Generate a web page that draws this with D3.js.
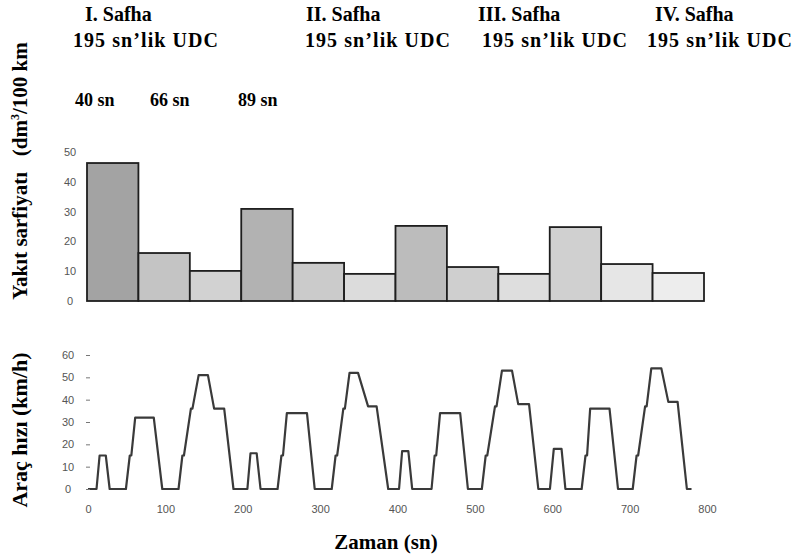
<!DOCTYPE html>
<html>
<head>
<meta charset="utf-8">
<script src="https://cdn.jsdelivr.net/npm/d3@7"></script>
<style>
  body { margin: 0; background: #fff; }
  svg { display: block; }
</style>
</head>
<body>
<div id="chart"></div>
<script>
// phase headings and segment lengths
const phases = ["I. Safha", "II. Safha", "III. Safha", "IV. Safha"];
const cycleLabel = "195 sn\u2019lik UDC";
const segments = ["40 sn", "66 sn", "89 sn"];

// fuel consumption per segment (dm3/100 km), 3 segments x 4 phases
const barIds = ["I-40", "I-66", "I-89", "II-40", "II-66", "II-89",
                "III-40", "III-66", "III-89", "IV-40", "IV-66", "IV-89"];
const fuel = [46.3, 16.1, 10.1, 30.9, 12.8, 9.1, 25.2, 11.4, 9.1, 24.8, 12.4, 9.4];
const fuelTicks = [0, 10, 20, 30, 40, 50];

// vehicle speed trace (sn, km/h)
const speedTime = [
  0, 11, 15, 23, 28, 49, 54, 56, 61, 85, 96, 117, 122, 124, 133, 135, 143, 155, 163, 176, 188,
  206, 210, 218, 223, 245, 250, 252, 257, 283, 293, 315, 320, 322, 330, 332, 338, 349, 362, 373, 388,
  402, 406, 414, 419, 444, 448, 450, 455, 481, 491, 509, 514, 516, 526, 528, 535, 548, 556, 570, 582,
  597, 602, 612, 617, 638, 643, 645, 649, 674, 685, 704, 709, 711, 720, 722, 728, 741, 750, 762, 774, 780
];
const speedValue = [
  0, 0, 15, 15, 0, 0, 15, 15, 32, 32, 0, 0, 15, 15, 36, 36, 51, 51, 36, 36, 0,
  0, 16, 16, 0, 0, 15, 15, 34, 34, 0, 0, 15, 15, 36, 36, 52, 52, 37, 37, 0,
  0, 17, 17, 0, 0, 15, 15, 34, 34, 0, 0, 15, 15, 37, 37, 53, 53, 38, 38, 0,
  0, 18, 18, 0, 0, 15, 15, 36, 36, 0, 0, 15, 15, 37, 37, 54, 54, 39, 39, 0, 0
];
const speedTicks = [0, 10, 20, 30, 40, 50, 60];
const timeTicks = [0, 100, 200, 300, 400, 500, 600, 700, 800];

const width = 799, height = 559;
const serif = "'Liberation Serif', 'DejaVu Serif', serif";
const sans = "'Liberation Sans', Arial, sans-serif";

const svg = d3.select("#chart")
  .append("svg")
  .attr("width", width)
  .attr("height", height);

// scales
const xBar = d3.scaleBand().domain(barIds).range([87, 704]).padding(0);
const yFuel = d3.scaleLinear().domain([0, 50]).range([301, 152]);
const xTime = d3.scaleLinear().domain([0, 800]).range([88, 707]);
const ySpeed = d3.scaleLinear().domain([0, 60]).range([489, 355]);

const barFill = d3.scaleOrdinal()
  .domain(barIds)
  .range(["#a3a3a3", "#c4c4c4", "#d2d2d2", "#b2b2b2", "#cbcbcb", "#dcdcdc",
          "#bcbcbc", "#cfcfcf", "#dedede", "#d0d0d0", "#e6e6e6", "#ededed"]);

// header texts
const headerX = [73, 305, 482, 647];
const phaseX = [85, 306, 478, 655];
phases.forEach((p, i) => {
  svg.append("text")
    .attr("x", phaseX[i]).attr("y", 21)
    .style("font-family", serif).style("font-weight", "bold")
    .style("font-size", "20px")
    .text(p);
  svg.append("text")
    .attr("x", headerX[i]).attr("y", 47)
    .style("font-family", serif).style("font-weight", "bold")
    .style("font-size", "20px")
    .attr("textLength", 145)
    .text(cycleLabel);
});

const segX = [75, 150, 238];
segments.forEach((s, i) => {
  svg.append("text")
    .attr("x", segX[i]).attr("y", 106)
    .style("font-family", serif).style("font-weight", "bold")
    .style("font-size", "18px")
    .text(s);
});

// fuel bars
svg.append("g")
  .selectAll("rect")
  .data(fuel)
  .enter()
  .append("rect")
  .attr("x", (d, i) => xBar(barIds[i]))
  .attr("y", d => yFuel(d))
  .attr("width", xBar.bandwidth())
  .attr("height", d => yFuel(0) - yFuel(d))
  .attr("fill", (d, i) => barFill(barIds[i]))
  .attr("stroke", "#1e1e1e")
  .attr("stroke-width", 1.8);

// fuel axis (labels only)
const fuelAxis = svg.append("g")
  .attr("transform", "translate(76,0)")
  .call(d3.axisLeft(yFuel).tickValues(fuelTicks).tickSize(0).tickPadding(0));
fuelAxis.select(".domain").remove();
fuelAxis.selectAll("text")
  .style("font-family", sans).style("font-size", "11px")
  .attr("fill", "#555").style("text-anchor", "middle").attr("x", -6);

// speed trace
const speedData = speedTime.map((t, i) => ({t: t, v: speedValue[i]}));
const line = d3.line().x(d => xTime(d.t)).y(d => ySpeed(d.v));

svg.append("path")
  .datum(speedData)
  .attr("fill", "none")
  .attr("stroke", "#3a3a3a")
  .attr("stroke-width", 2.2)
  .attr("stroke-linejoin", "round")
  .attr("d", line);

// speed axis with small dash ticks
const speedAxis = svg.append("g")
  .attr("transform", "translate(90,0)")
  .call(d3.axisLeft(ySpeed).tickValues(speedTicks).tickSize(4).tickPadding(18));
speedAxis.select(".domain").remove();
speedAxis.selectAll("line").attr("stroke", "#777");
speedAxis.selectAll("text")
  .style("font-family", sans).style("font-size", "11px")
  .attr("fill", "#555").style("text-anchor", "middle");

// time axis (labels only)
const timeAxis = svg.append("g")
  .attr("transform", "translate(0,505)")
  .call(d3.axisBottom(xTime).tickValues(timeTicks).tickSize(0).tickPadding(0));
timeAxis.select(".domain").remove();
timeAxis.selectAll("text")
  .style("font-family", sans).style("font-size", "11px")
  .attr("fill", "#555");

// axis titles
svg.append("text")
  .attr("transform", "rotate(-90)")
  .attr("x", -171).attr("y", 27)
  .style("text-anchor", "middle")
  .style("font-family", serif).style("font-weight", "bold")
  .style("font-size", "21px")
  .html("Yak\u0131t sarfiyat\u0131&#160;&#160; (dm<tspan dy='-8' font-size='12px'>3</tspan><tspan dy='8'>/100 km</tspan>");

svg.append("text")
  .attr("transform", "rotate(-90)")
  .attr("x", -430).attr("y", 27)
  .style("text-anchor", "middle")
  .style("font-family", serif).style("font-weight", "bold")
  .style("font-size", "22px")
  .text("Ara\u00e7 h\u0131z\u0131 (km/h)");

svg.append("text")
  .attr("x", 386).attr("y", 549)
  .style("text-anchor", "middle")
  .style("font-family", serif).style("font-weight", "bold")
  .style("font-size", "21px")
  .text("Zaman (sn)");
</script>
</body>
</html>
